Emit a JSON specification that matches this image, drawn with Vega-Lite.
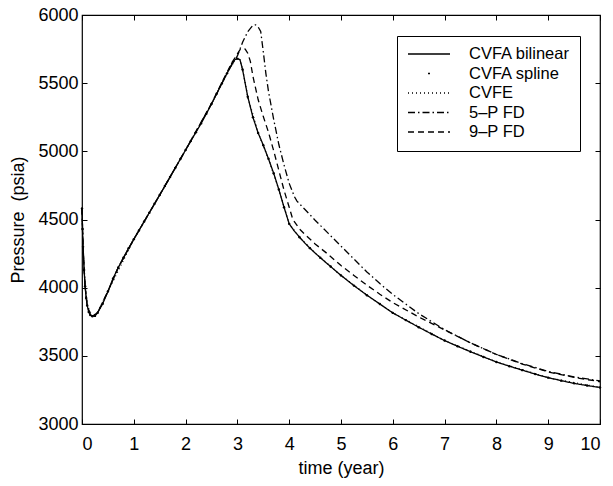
{
  "$schema": "https://vega.github.io/schema/vega-lite/v6.json",
  "width": 518,
  "height": 409,
  "autosize": {"type": "none"},
  "padding": {"left": 82, "top": 15, "right": 13, "bottom": 62},
  "background": "white",
  "config": {
    "view": {"stroke": "black", "strokeWidth": 1.2},
    "font": "Liberation Sans",
    "axis": {
      "domain": false, "grid": false, "tickColor": "black", "tickSize": -5, "tickWidth": 1,
      "labelFont": "Liberation Sans", "labelFontSize": 18, "labelColor": "black",
      "titleFont": "Liberation Sans", "titleFontSize": 18, "titleFontWeight": "normal", "titleColor": "black"
    }
  },
  "datasets": {
    "lines": [
      {"s": "5\u2013P FD", "t": 0, "p": 4580}, {"s": "5\u2013P FD", "t": 0.02, "p": 4300}, {"s": "5\u2013P FD", "t": 0.06, "p": 4010}, {"s": "5\u2013P FD", "t": 0.1, "p": 3870}, {"s": "5\u2013P FD", "t": 0.16, "p": 3800}, {"s": "5\u2013P FD", "t": 0.2, "p": 3790}, {"s": "5\u2013P FD", "t": 0.3, "p": 3815}, {"s": "5\u2013P FD", "t": 0.5, "p": 3972}, {"s": "5\u2013P FD", "t": 0.7, "p": 4148}, {"s": "5\u2013P FD", "t": 1.0, "p": 4355}, {"s": "5\u2013P FD", "t": 1.5, "p": 4680}, {"s": "5\u2013P FD", "t": 2.0, "p": 5010}, {"s": "5\u2013P FD", "t": 2.5, "p": 5348}, {"s": "5\u2013P FD", "t": 2.7, "p": 5500}, {"s": "5\u2013P FD", "t": 2.8, "p": 5575}, {"s": "5\u2013P FD", "t": 2.9, "p": 5640}, {"s": "5\u2013P FD", "t": 3.0, "p": 5700}, {"s": "5\u2013P FD", "t": 3.1, "p": 5800}, {"s": "5\u2013P FD", "t": 3.2, "p": 5878}, {"s": "5\u2013P FD", "t": 3.3, "p": 5925}, {"s": "5\u2013P FD", "t": 3.35, "p": 5928}, {"s": "5\u2013P FD", "t": 3.4, "p": 5912}, {"s": "5\u2013P FD", "t": 3.45, "p": 5880}, {"s": "5\u2013P FD", "t": 3.5, "p": 5730}, {"s": "5\u2013P FD", "t": 3.55, "p": 5570}, {"s": "5\u2013P FD", "t": 3.6, "p": 5440}, {"s": "5\u2013P FD", "t": 3.7, "p": 5235}, {"s": "5\u2013P FD", "t": 3.8, "p": 5050}, {"s": "5\u2013P FD", "t": 3.9, "p": 4900}, {"s": "5\u2013P FD", "t": 4.0, "p": 4765}, {"s": "5\u2013P FD", "t": 4.1, "p": 4668}, {"s": "5\u2013P FD", "t": 4.15, "p": 4635}, {"s": "5\u2013P FD", "t": 4.3, "p": 4575}, {"s": "5\u2013P FD", "t": 4.5, "p": 4495}, {"s": "5\u2013P FD", "t": 4.75, "p": 4400}, {"s": "5\u2013P FD", "t": 5.0, "p": 4305}, {"s": "5\u2013P FD", "t": 5.25, "p": 4210}, {"s": "5\u2013P FD", "t": 5.5, "p": 4115}, {"s": "5\u2013P FD", "t": 5.75, "p": 4030}, {"s": "5\u2013P FD", "t": 6.0, "p": 3950}, {"s": "5\u2013P FD", "t": 6.5, "p": 3810}, {"s": "5\u2013P FD", "t": 7.0, "p": 3692}, {"s": "5\u2013P FD", "t": 7.5, "p": 3595}, {"s": "5\u2013P FD", "t": 8.0, "p": 3510}, {"s": "5\u2013P FD", "t": 8.5, "p": 3443}, {"s": "5\u2013P FD", "t": 9.0, "p": 3386}, {"s": "5\u2013P FD", "t": 9.5, "p": 3345}, {"s": "5\u2013P FD", "t": 10, "p": 3316},

      {"s": "9\u2013P FD", "t": 0, "p": 4580}, {"s": "9\u2013P FD", "t": 0.02, "p": 4300}, {"s": "9\u2013P FD", "t": 0.06, "p": 4010}, {"s": "9\u2013P FD", "t": 0.1, "p": 3870}, {"s": "9\u2013P FD", "t": 0.16, "p": 3800}, {"s": "9\u2013P FD", "t": 0.2, "p": 3790}, {"s": "9\u2013P FD", "t": 0.3, "p": 3815}, {"s": "9\u2013P FD", "t": 0.5, "p": 3972}, {"s": "9\u2013P FD", "t": 0.7, "p": 4148}, {"s": "9\u2013P FD", "t": 1.0, "p": 4355}, {"s": "9\u2013P FD", "t": 1.5, "p": 4680}, {"s": "9\u2013P FD", "t": 2.0, "p": 5010}, {"s": "9\u2013P FD", "t": 2.5, "p": 5350}, {"s": "9\u2013P FD", "t": 2.7, "p": 5505}, {"s": "9\u2013P FD", "t": 2.8, "p": 5580}, {"s": "9\u2013P FD", "t": 2.9, "p": 5655}, {"s": "9\u2013P FD", "t": 3.0, "p": 5715}, {"s": "9\u2013P FD", "t": 3.05, "p": 5745}, {"s": "9\u2013P FD", "t": 3.1, "p": 5755}, {"s": "9\u2013P FD", "t": 3.15, "p": 5750}, {"s": "9\u2013P FD", "t": 3.2, "p": 5720}, {"s": "9\u2013P FD", "t": 3.25, "p": 5660}, {"s": "9\u2013P FD", "t": 3.3, "p": 5550}, {"s": "9\u2013P FD", "t": 3.4, "p": 5380}, {"s": "9\u2013P FD", "t": 3.5, "p": 5255}, {"s": "9\u2013P FD", "t": 3.6, "p": 5140}, {"s": "9\u2013P FD", "t": 3.7, "p": 5005}, {"s": "9\u2013P FD", "t": 3.8, "p": 4860}, {"s": "9\u2013P FD", "t": 3.9, "p": 4715}, {"s": "9\u2013P FD", "t": 4.0, "p": 4590}, {"s": "9\u2013P FD", "t": 4.07, "p": 4500}, {"s": "9\u2013P FD", "t": 4.2, "p": 4430}, {"s": "9\u2013P FD", "t": 4.3, "p": 4392}, {"s": "9\u2013P FD", "t": 4.5, "p": 4321}, {"s": "9\u2013P FD", "t": 4.75, "p": 4245}, {"s": "9\u2013P FD", "t": 5.0, "p": 4162}, {"s": "9\u2013P FD", "t": 5.25, "p": 4090}, {"s": "9\u2013P FD", "t": 5.5, "p": 4018}, {"s": "9\u2013P FD", "t": 5.75, "p": 3952}, {"s": "9\u2013P FD", "t": 6.0, "p": 3890}, {"s": "9\u2013P FD", "t": 6.5, "p": 3785}, {"s": "9\u2013P FD", "t": 7.0, "p": 3690}, {"s": "9\u2013P FD", "t": 7.5, "p": 3595}, {"s": "9\u2013P FD", "t": 8.0, "p": 3510}, {"s": "9\u2013P FD", "t": 8.5, "p": 3440}, {"s": "9\u2013P FD", "t": 9.0, "p": 3382}, {"s": "9\u2013P FD", "t": 9.5, "p": 3342}, {"s": "9\u2013P FD", "t": 10, "p": 3310},

      {"s": "CVFE", "t": 0, "p": 4580}, {"s": "CVFE", "t": 0.02, "p": 4300}, {"s": "CVFE", "t": 0.06, "p": 4010}, {"s": "CVFE", "t": 0.1, "p": 3870}, {"s": "CVFE", "t": 0.2, "p": 3790}, {"s": "CVFE", "t": 0.3, "p": 3815}, {"s": "CVFE", "t": 0.5, "p": 3972}, {"s": "CVFE", "t": 1.0, "p": 4355}, {"s": "CVFE", "t": 1.5, "p": 4680}, {"s": "CVFE", "t": 2.0, "p": 5010}, {"s": "CVFE", "t": 2.5, "p": 5348}, {"s": "CVFE", "t": 2.8, "p": 5572}, {"s": "CVFE", "t": 2.95, "p": 5672}, {"s": "CVFE", "t": 3.0, "p": 5680}, {"s": "CVFE", "t": 3.05, "p": 5672}, {"s": "CVFE", "t": 3.1, "p": 5600}, {"s": "CVFE", "t": 3.2, "p": 5400}, {"s": "CVFE", "t": 3.4, "p": 5135}, {"s": "CVFE", "t": 3.6, "p": 4945}, {"s": "CVFE", "t": 3.8, "p": 4720}, {"s": "CVFE", "t": 4.0, "p": 4468}, {"s": "CVFE", "t": 4.2, "p": 4370}, {"s": "CVFE", "t": 4.5, "p": 4254}, {"s": "CVFE", "t": 5.0, "p": 4090}, {"s": "CVFE", "t": 5.5, "p": 3945}, {"s": "CVFE", "t": 6.0, "p": 3815}, {"s": "CVFE", "t": 7.0, "p": 3612}, {"s": "CVFE", "t": 8.0, "p": 3455}, {"s": "CVFE", "t": 9.0, "p": 3340}, {"s": "CVFE", "t": 10, "p": 3268},

      {"s": "CVFA bilinear", "t": 0, "p": 4580}, {"s": "CVFA bilinear", "t": 0.01, "p": 4430}, {"s": "CVFA bilinear", "t": 0.02, "p": 4300}, {"s": "CVFA bilinear", "t": 0.04, "p": 4130}, {"s": "CVFA bilinear", "t": 0.06, "p": 4010}, {"s": "CVFA bilinear", "t": 0.08, "p": 3925}, {"s": "CVFA bilinear", "t": 0.1, "p": 3870}, {"s": "CVFA bilinear", "t": 0.13, "p": 3822}, {"s": "CVFA bilinear", "t": 0.16, "p": 3800}, {"s": "CVFA bilinear", "t": 0.2, "p": 3790}, {"s": "CVFA bilinear", "t": 0.25, "p": 3793}, {"s": "CVFA bilinear", "t": 0.3, "p": 3815}, {"s": "CVFA bilinear", "t": 0.4, "p": 3882}, {"s": "CVFA bilinear", "t": 0.5, "p": 3972}, {"s": "CVFA bilinear", "t": 0.6, "p": 4068}, {"s": "CVFA bilinear", "t": 0.7, "p": 4148}, {"s": "CVFA bilinear", "t": 0.8, "p": 4220}, {"s": "CVFA bilinear", "t": 0.9, "p": 4290}, {"s": "CVFA bilinear", "t": 1.0, "p": 4355}, {"s": "CVFA bilinear", "t": 1.1, "p": 4420}, {"s": "CVFA bilinear", "t": 1.2, "p": 4485}, {"s": "CVFA bilinear", "t": 1.3, "p": 4550}, {"s": "CVFA bilinear", "t": 1.4, "p": 4615}, {"s": "CVFA bilinear", "t": 1.5, "p": 4680}, {"s": "CVFA bilinear", "t": 1.6, "p": 4745}, {"s": "CVFA bilinear", "t": 1.7, "p": 4812}, {"s": "CVFA bilinear", "t": 1.8, "p": 4878}, {"s": "CVFA bilinear", "t": 1.9, "p": 4944}, {"s": "CVFA bilinear", "t": 2.0, "p": 5010}, {"s": "CVFA bilinear", "t": 2.1, "p": 5075}, {"s": "CVFA bilinear", "t": 2.2, "p": 5140}, {"s": "CVFA bilinear", "t": 2.3, "p": 5205}, {"s": "CVFA bilinear", "t": 2.4, "p": 5275}, {"s": "CVFA bilinear", "t": 2.5, "p": 5348}, {"s": "CVFA bilinear", "t": 2.6, "p": 5422}, {"s": "CVFA bilinear", "t": 2.7, "p": 5497}, {"s": "CVFA bilinear", "t": 2.8, "p": 5572}, {"s": "CVFA bilinear", "t": 2.9, "p": 5645}, {"s": "CVFA bilinear", "t": 2.95, "p": 5672}, {"s": "CVFA bilinear", "t": 3.0, "p": 5680}, {"s": "CVFA bilinear", "t": 3.05, "p": 5672}, {"s": "CVFA bilinear", "t": 3.1, "p": 5600}, {"s": "CVFA bilinear", "t": 3.15, "p": 5500}, {"s": "CVFA bilinear", "t": 3.2, "p": 5400}, {"s": "CVFA bilinear", "t": 3.3, "p": 5250}, {"s": "CVFA bilinear", "t": 3.4, "p": 5135}, {"s": "CVFA bilinear", "t": 3.5, "p": 5045}, {"s": "CVFA bilinear", "t": 3.6, "p": 4945}, {"s": "CVFA bilinear", "t": 3.7, "p": 4840}, {"s": "CVFA bilinear", "t": 3.8, "p": 4720}, {"s": "CVFA bilinear", "t": 3.9, "p": 4590}, {"s": "CVFA bilinear", "t": 4.0, "p": 4468}, {"s": "CVFA bilinear", "t": 4.1, "p": 4415}, {"s": "CVFA bilinear", "t": 4.2, "p": 4370}, {"s": "CVFA bilinear", "t": 4.3, "p": 4328}, {"s": "CVFA bilinear", "t": 4.4, "p": 4290}, {"s": "CVFA bilinear", "t": 4.5, "p": 4254}, {"s": "CVFA bilinear", "t": 4.6, "p": 4220}, {"s": "CVFA bilinear", "t": 4.7, "p": 4187}, {"s": "CVFA bilinear", "t": 4.8, "p": 4155}, {"s": "CVFA bilinear", "t": 4.9, "p": 4122}, {"s": "CVFA bilinear", "t": 5.0, "p": 4090}, {"s": "CVFA bilinear", "t": 5.25, "p": 4015}, {"s": "CVFA bilinear", "t": 5.5, "p": 3945}, {"s": "CVFA bilinear", "t": 5.75, "p": 3880}, {"s": "CVFA bilinear", "t": 6.0, "p": 3815}, {"s": "CVFA bilinear", "t": 6.25, "p": 3762}, {"s": "CVFA bilinear", "t": 6.5, "p": 3710}, {"s": "CVFA bilinear", "t": 6.75, "p": 3660}, {"s": "CVFA bilinear", "t": 7.0, "p": 3612}, {"s": "CVFA bilinear", "t": 7.25, "p": 3570}, {"s": "CVFA bilinear", "t": 7.5, "p": 3530}, {"s": "CVFA bilinear", "t": 7.75, "p": 3492}, {"s": "CVFA bilinear", "t": 8.0, "p": 3455}, {"s": "CVFA bilinear", "t": 8.25, "p": 3424}, {"s": "CVFA bilinear", "t": 8.5, "p": 3395}, {"s": "CVFA bilinear", "t": 8.75, "p": 3366}, {"s": "CVFA bilinear", "t": 9.0, "p": 3340}, {"s": "CVFA bilinear", "t": 9.25, "p": 3318}, {"s": "CVFA bilinear", "t": 9.5, "p": 3298}, {"s": "CVFA bilinear", "t": 9.75, "p": 3282}, {"s": "CVFA bilinear", "t": 10, "p": 3268}
    ],
    "spline": [
      {"t": 0, "p": 4580}, {"t": 0.01, "p": 4430}, {"t": 0.02, "p": 4300}, {"t": 0.04, "p": 4130}, {"t": 0.06, "p": 4010}, {"t": 0.08, "p": 3925}, {"t": 0.1, "p": 3870}, {"t": 0.13, "p": 3822}, {"t": 0.16, "p": 3800}, {"t": 0.2, "p": 3790}, {"t": 0.25, "p": 3793}, {"t": 0.3, "p": 3815}, {"t": 0.4, "p": 3882}, {"t": 0.5, "p": 3972}, {"t": 0.6, "p": 4068}, {"t": 0.7, "p": 4148}, {"t": 0.8, "p": 4220}, {"t": 0.9, "p": 4290}, {"t": 1.0, "p": 4355}, {"t": 1.1, "p": 4420}, {"t": 1.2, "p": 4485}, {"t": 1.3, "p": 4550}, {"t": 1.4, "p": 4615}, {"t": 1.5, "p": 4680}, {"t": 1.6, "p": 4745}, {"t": 1.7, "p": 4812}, {"t": 1.8, "p": 4878}, {"t": 1.9, "p": 4944}, {"t": 2.0, "p": 5010}, {"t": 2.1, "p": 5075}, {"t": 2.2, "p": 5140}, {"t": 2.3, "p": 5205}, {"t": 2.4, "p": 5275}, {"t": 2.5, "p": 5348}, {"t": 2.6, "p": 5422}, {"t": 2.7, "p": 5497}, {"t": 2.8, "p": 5572}, {"t": 2.9, "p": 5645}, {"t": 3.0, "p": 5680}, {"t": 3.1, "p": 5600}, {"t": 3.2, "p": 5400}, {"t": 3.3, "p": 5250}, {"t": 3.4, "p": 5135}, {"t": 3.5, "p": 5045}, {"t": 3.6, "p": 4945}, {"t": 3.7, "p": 4840}, {"t": 3.8, "p": 4720}, {"t": 3.9, "p": 4590}, {"t": 4.0, "p": 4468}, {"t": 4.2, "p": 4370}, {"t": 4.4, "p": 4290}, {"t": 4.6, "p": 4220}, {"t": 4.8, "p": 4155}, {"t": 5.0, "p": 4090}, {"t": 5.25, "p": 4015}, {"t": 5.5, "p": 3945}, {"t": 5.75, "p": 3880}, {"t": 6.0, "p": 3815}, {"t": 6.25, "p": 3762}, {"t": 6.5, "p": 3710}, {"t": 6.75, "p": 3660}, {"t": 7.0, "p": 3612}, {"t": 7.25, "p": 3570}, {"t": 7.5, "p": 3530}, {"t": 7.75, "p": 3492}, {"t": 8.0, "p": 3455}, {"t": 8.25, "p": 3424}, {"t": 8.5, "p": 3395}, {"t": 8.75, "p": 3366}, {"t": 9.0, "p": 3340}, {"t": 9.25, "p": 3318}, {"t": 9.5, "p": 3298}, {"t": 9.75, "p": 3282}, {"t": 10, "p": 3268}
    ]
  },
  "layer": [
    {
      "data": {"name": "lines"},
      "mark": {"type": "line", "strokeWidth": 1.3, "color": "black"},
      "encoding": {
        "x": {"field": "t", "type": "quantitative", "scale": {"domain": [0, 10], "nice": false},
              "axis": {"orient": "bottom", "values": [0,1,2,3,4,5,6,7,8,9,10], "format": "d", "labelPadding": 16, "title": "time (year)", "titlePadding": 6}},
        "y": {"field": "p", "type": "quantitative", "scale": {"domain": [3000, 6000], "nice": false, "zero": false},
              "axis": {"orient": "left", "values": [3000,3500,4000,4500,5000,5500,6000], "format": "d", "labelPadding": 9, "title": "Pressure \u00a0(psia)", "titlePadding": 10}},
        "strokeDash": {
          "field": "s", "type": "nominal",
          "scale": {"domain": ["CVFA bilinear", "CVFA spline", "CVFE", "5\u2013P FD", "9\u2013P FD"],
                    "range": [[1, 0], [0, 20, 2, 100], [1, 3], [7, 3, 1.5, 3], [6, 4]]},
          "legend": {
            "orient": "none", "legendX": 315, "legendY": 21, "title": null,
            "strokeColor": "black", "fillColor": "white", "padding": 10,
            "symbolType": "stroke", "symbolSize": 1764, "symbolStrokeWidth": 1.3, "symbolStrokeColor": "black",
            "labelFont": "Liberation Sans", "labelFontSize": 16.5, "labelColor": "black", "labelOffset": 18,
            "clipHeight": 16, "rowPadding": 2.5
          }
        }
      }
    },
    {
      "data": {"name": "spline"},
      "mark": {"type": "point", "shape": "circle", "filled": true, "size": 6, "color": "black", "opacity": 1},
      "encoding": {
        "x": {"field": "t", "type": "quantitative", "axis": {"orient": "top", "values": [0,1,2,3,4,5,6,7,8,9,10], "labels": false, "title": null}},
        "y": {"field": "p", "type": "quantitative", "axis": {"orient": "right", "values": [3000,3500,4000,4500,5000,5500,6000], "labels": false, "title": null}}
      }
    }
  ],
  "resolve": {"axis": {"x": "independent", "y": "independent"}}
}
